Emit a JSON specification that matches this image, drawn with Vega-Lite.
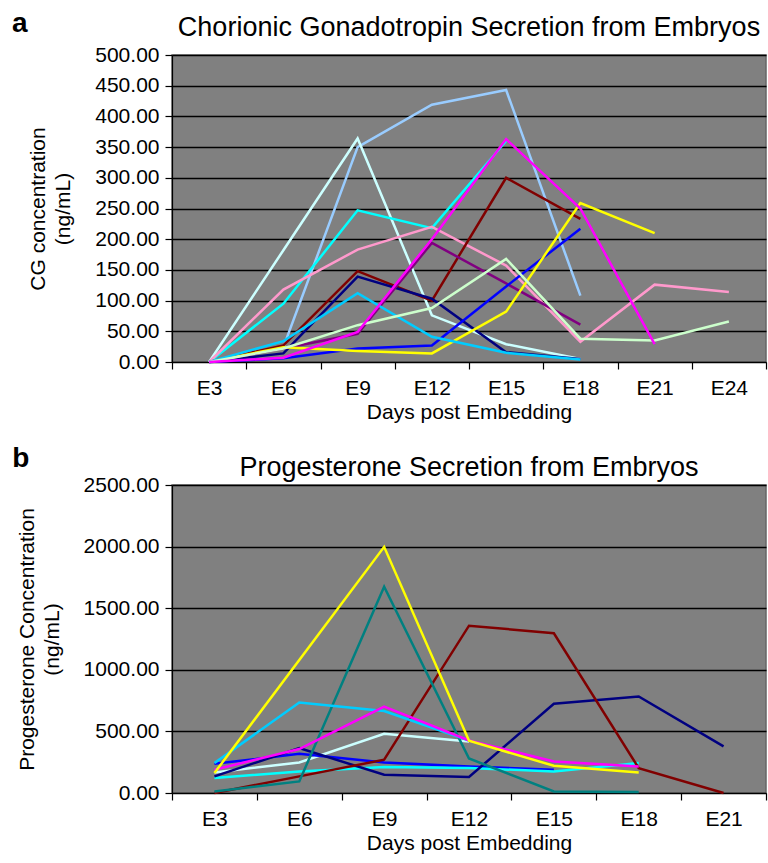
{
  "$schema": "https://vega.github.io/schema/vega-lite/v6.json",
  "padding": {"left": 12, "top": 10, "right": 0, "bottom": 0},
  "background": "white",
  "spacing": 22,
  "config": {
    "font": "Liberation Sans",
    "view": {"fill": "#808080", "stroke": "#666666", "strokeWidth": 1.5},
    "axis": {
      "labelFont": "Liberation Sans",
      "titleFont": "Liberation Sans",
      "labelFontSize": 21,
      "titleFontSize": 21,
      "titleFontWeight": "normal",
      "titleLineHeight": 25,
      "labelColor": "#000000",
      "titleColor": "#000000",
      "tickColor": "#000000",
      "domainColor": "#000000",
      "domainWidth": 1.2,
      "tickWidth": 1.2,
      "tickSize": 7,
      "gridColor": "#000000",
      "gridWidth": 1.3
    },
    "title": {"font": "Liberation Sans", "color": "#000000"}
  },
  "datasets": {
    "cg": [
      {"s": "LB", "d": "E3", "v": 0}, {"s": "LB", "d": "E6", "v": 24}, {"s": "LB", "d": "E9", "v": 350}, {"s": "LB", "d": "E12", "v": 419}, {"s": "LB", "d": "E15", "v": 443}, {"s": "LB", "d": "E18", "v": 108},
      {"s": "PC", "d": "E3", "v": 0}, {"s": "PC", "d": "E6", "v": 182}, {"s": "PC", "d": "E9", "v": 364}, {"s": "PC", "d": "E12", "v": 76}, {"s": "PC", "d": "E15", "v": 29}, {"s": "PC", "d": "E18", "v": 5},
      {"s": "CY", "d": "E3", "v": 0}, {"s": "CY", "d": "E6", "v": 95}, {"s": "CY", "d": "E9", "v": 247}, {"s": "CY", "d": "E12", "v": 218}, {"s": "CY", "d": "E15", "v": 360},
      {"s": "PK", "d": "E3", "v": 0}, {"s": "PK", "d": "E6", "v": 118}, {"s": "PK", "d": "E9", "v": 183}, {"s": "PK", "d": "E12", "v": 220}, {"s": "PK", "d": "E15", "v": 157}, {"s": "PK", "d": "E18", "v": 33}, {"s": "PK", "d": "E21", "v": 126}, {"s": "PK", "d": "E24", "v": 114},
      {"s": "DR", "d": "E3", "v": 0}, {"s": "DR", "d": "E6", "v": 27}, {"s": "DR", "d": "E9", "v": 148}, {"s": "DR", "d": "E12", "v": 100}, {"s": "DR", "d": "E15", "v": 300}, {"s": "DR", "d": "E18", "v": 233},
      {"s": "NV", "d": "E3", "v": 0}, {"s": "NV", "d": "E6", "v": 14}, {"s": "NV", "d": "E9", "v": 139}, {"s": "NV", "d": "E12", "v": 103}, {"s": "NV", "d": "E15", "v": 16}, {"s": "NV", "d": "E18", "v": 5},
      {"s": "PU", "d": "E3", "v": 0}, {"s": "PU", "d": "E6", "v": 22}, {"s": "PU", "d": "E9", "v": 46}, {"s": "PU", "d": "E12", "v": 194}, {"s": "PU", "d": "E15", "v": 128}, {"s": "PU", "d": "E18", "v": 61},
      {"s": "BL", "d": "E3", "v": 0}, {"s": "BL", "d": "E6", "v": 6}, {"s": "BL", "d": "E9", "v": 22}, {"s": "BL", "d": "E12", "v": 27}, {"s": "BL", "d": "E15", "v": 123}, {"s": "BL", "d": "E18", "v": 217},
      {"s": "YE", "d": "E3", "v": 0}, {"s": "YE", "d": "E6", "v": 24}, {"s": "YE", "d": "E9", "v": 18}, {"s": "YE", "d": "E12", "v": 14}, {"s": "YE", "d": "E15", "v": 82}, {"s": "YE", "d": "E18", "v": 259}, {"s": "YE", "d": "E21", "v": 210},
      {"s": "SB", "d": "E3", "v": 0}, {"s": "SB", "d": "E6", "v": 34}, {"s": "SB", "d": "E9", "v": 112}, {"s": "SB", "d": "E12", "v": 41}, {"s": "SB", "d": "E15", "v": 15}, {"s": "SB", "d": "E18", "v": 4},
      {"s": "LG", "d": "E3", "v": 0}, {"s": "LG", "d": "E6", "v": 22}, {"s": "LG", "d": "E9", "v": 60}, {"s": "LG", "d": "E12", "v": 88}, {"s": "LG", "d": "E15", "v": 168}, {"s": "LG", "d": "E18", "v": 38}, {"s": "LG", "d": "E21", "v": 35}, {"s": "LG", "d": "E24", "v": 66},
      {"s": "MG", "d": "E3", "v": 0}, {"s": "MG", "d": "E6", "v": 7}, {"s": "MG", "d": "E9", "v": 49}, {"s": "MG", "d": "E12", "v": 200}, {"s": "MG", "d": "E15", "v": 363}, {"s": "MG", "d": "E18", "v": 250}, {"s": "MG", "d": "E21", "v": 29}
    ],
    "pg": [
      {"s": "PC", "d": "E3", "v": 167}, {"s": "PC", "d": "E6", "v": 248}, {"s": "PC", "d": "E9", "v": 481}, {"s": "PC", "d": "E12", "v": 418},
      {"s": "BL", "d": "E3", "v": 237}, {"s": "BL", "d": "E6", "v": 318}, {"s": "BL", "d": "E9", "v": 248}, {"s": "BL", "d": "E12", "v": 216}, {"s": "BL", "d": "E15", "v": 189},
      {"s": "CY", "d": "E3", "v": 121}, {"s": "CY", "d": "E6", "v": 175}, {"s": "CY", "d": "E9", "v": 211}, {"s": "CY", "d": "E12", "v": 203}, {"s": "CY", "d": "E15", "v": 175}, {"s": "CY", "d": "E18", "v": 243},
      {"s": "NV", "d": "E3", "v": 135}, {"s": "NV", "d": "E6", "v": 364}, {"s": "NV", "d": "E9", "v": 148}, {"s": "NV", "d": "E12", "v": 130}, {"s": "NV", "d": "E15", "v": 724}, {"s": "NV", "d": "E18", "v": 783}, {"s": "NV", "d": "E21", "v": 378},
      {"s": "DR", "d": "E3", "v": 0}, {"s": "DR", "d": "E6", "v": 135}, {"s": "DR", "d": "E9", "v": 270}, {"s": "DR", "d": "E12", "v": 1358}, {"s": "DR", "d": "E15", "v": 1297}, {"s": "DR", "d": "E18", "v": 202}, {"s": "DR", "d": "E21", "v": 0},
      {"s": "TL", "d": "E3", "v": 13}, {"s": "TL", "d": "E6", "v": 94}, {"s": "TL", "d": "E9", "v": 1675}, {"s": "TL", "d": "E12", "v": 280}, {"s": "TL", "d": "E15", "v": 13}, {"s": "TL", "d": "E18", "v": 8},
      {"s": "SB", "d": "E3", "v": 243}, {"s": "SB", "d": "E6", "v": 735}, {"s": "SB", "d": "E9", "v": 665}, {"s": "SB", "d": "E12", "v": 426},
      {"s": "MG", "d": "E3", "v": 189}, {"s": "MG", "d": "E6", "v": 357}, {"s": "MG", "d": "E9", "v": 702}, {"s": "MG", "d": "E12", "v": 426}, {"s": "MG", "d": "E15", "v": 256}, {"s": "MG", "d": "E18", "v": 216},
      {"s": "YE", "d": "E3", "v": 162}, {"s": "YE", "d": "E6", "v": 1080}, {"s": "YE", "d": "E9", "v": 1998}, {"s": "YE", "d": "E12", "v": 424}, {"s": "YE", "d": "E15", "v": 221}, {"s": "YE", "d": "E18", "v": 167}
    ]
  },
  "vconcat": [
    {
      "title": {"text": "a", "anchor": "start", "frame": "bounds", "fontSize": 28, "fontWeight": "bold", "offset": -25, "dx": -15},
      "vconcat": [
        {
          "title": {"text": "Chorionic Gonadotropin Secretion from Embryos", "frame": "group", "anchor": "middle", "fontSize": 27, "fontWeight": "normal", "offset": 2},
          "width": 594,
          "height": 307,
          "data": {"name": "cg"},
          "mark": {"type": "line", "strokeWidth": 2.5},
          "encoding": {
            "x": {
              "field": "d", "type": "ordinal",
              "sort": ["E3", "E6", "E9", "E12", "E15", "E18", "E21", "E24"],
              "scale": {"type": "band", "domain": ["E3", "E6", "E9", "E12", "E15", "E18", "E21", "E24"], "paddingInner": 0, "paddingOuter": 0},
              "axis": {"title": "Days post Embedding", "labelAngle": 0, "tickBand": "extent", "labelPadding": 8, "titlePadding": 3, "grid": false}
            },
            "y": {
              "field": "v", "type": "quantitative",
              "scale": {"domain": [0, 500], "nice": false},
              "axis": {"title": ["CG concentration", "(ng/mL)"], "values": [0, 50, 100, 150, 200, 250, 300, 350, 400, 450, 500], "format": ".2f", "grid": true, "titlePadding": 21, "labelPadding": 6}
            },
            "color": {
              "field": "s", "type": "nominal", "legend": null,
              "scale": {
                "domain": ["LB", "PC", "CY", "PK", "DR", "NV", "PU", "BL", "YE", "SB", "LG", "MG", "TL"],
                "range": ["#99CCFF", "#CCFFFF", "#00FFFF", "#FF99CC", "#800000", "#000080", "#800080", "#0000FF", "#FFFF00", "#00CCFF", "#CCFFCC", "#FF00FF", "#008080"]
              }
            }
          }
        }
      ]
    },
    {
      "title": {"text": "b", "anchor": "start", "frame": "bounds", "fontSize": 28, "fontWeight": "bold", "offset": -20, "dx": -3},
      "vconcat": [
        {
          "title": {"text": "Progesterone Secretion from Embryos", "frame": "group", "anchor": "middle", "fontSize": 27, "fontWeight": "normal", "offset": -8},
          "width": 594,
          "height": 308,
          "data": {"name": "pg"},
          "mark": {"type": "line", "strokeWidth": 2.5},
          "encoding": {
            "x": {
              "field": "d", "type": "ordinal",
              "sort": ["E3", "E6", "E9", "E12", "E15", "E18", "E21"],
              "scale": {"type": "band", "domain": ["E3", "E6", "E9", "E12", "E15", "E18", "E21"], "paddingInner": 0, "paddingOuter": 0},
              "axis": {"title": "Days post Embedding", "labelAngle": 0, "tickBand": "extent", "labelPadding": 8, "titlePadding": 3, "grid": false}
            },
            "y": {
              "field": "v", "type": "quantitative",
              "scale": {"domain": [0, 2500], "nice": false},
              "axis": {"title": ["Progesterone Concentration", "(ng/mL)"], "values": [0, 500, 1000, 1500, 2000, 2500], "format": ".2f", "grid": true, "titlePadding": 21, "labelPadding": 6}
            },
            "color": {
              "field": "s", "type": "nominal", "legend": null,
              "scale": {
                "domain": ["LB", "PC", "CY", "PK", "DR", "NV", "PU", "BL", "YE", "SB", "LG", "MG", "TL"],
                "range": ["#99CCFF", "#CCFFFF", "#00FFFF", "#FF99CC", "#800000", "#000080", "#800080", "#0000FF", "#FFFF00", "#00CCFF", "#CCFFCC", "#FF00FF", "#008080"]
              }
            }
          }
        }
      ]
    }
  ]
}
